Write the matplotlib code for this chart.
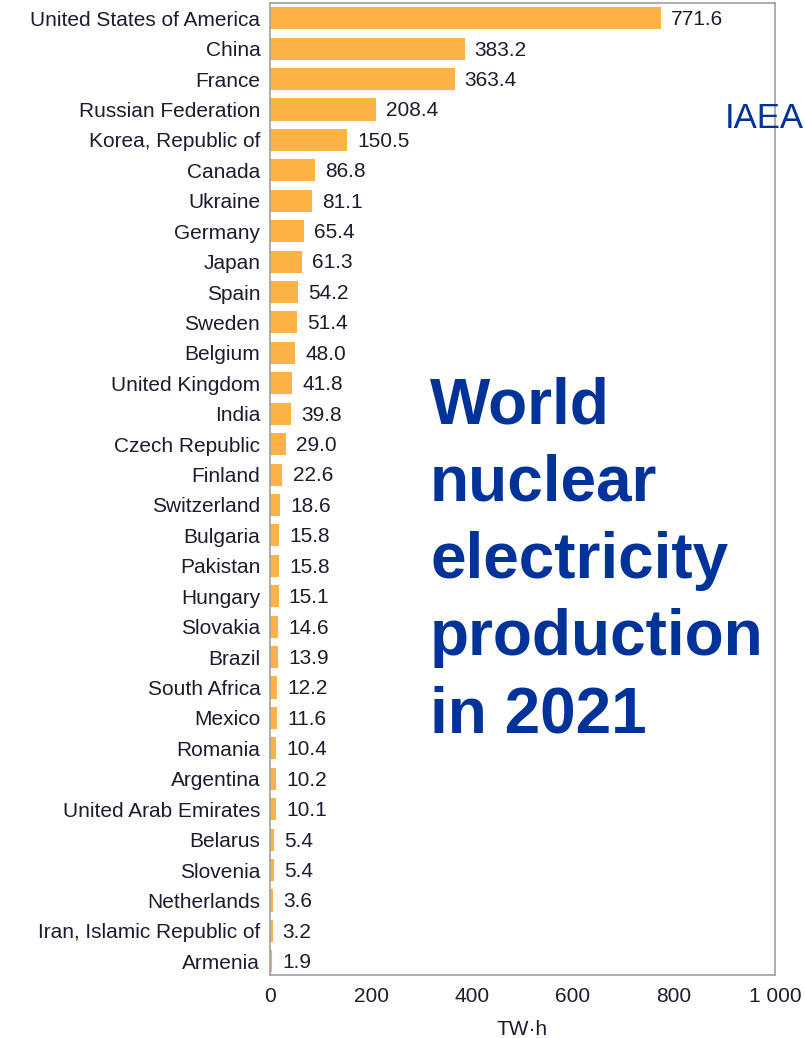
import matplotlib
matplotlib.use("Agg")
import matplotlib.pyplot as plt

countries = ["United States of America", "China", "France", "Russian Federation",
             "Korea, Republic of", "Canada", "Ukraine", "Germany", "Japan", "Spain",
             "Sweden", "Belgium", "United Kingdom", "India", "Czech Republic", "Finland",
             "Switzerland", "Bulgaria", "Pakistan", "Hungary", "Slovakia", "Brazil",
             "South Africa", "Mexico", "Romania", "Argentina", "United Arab Emirates",
             "Belarus", "Slovenia", "Netherlands", "Iran, Islamic Republic of", "Armenia"]
values = [771.6, 383.2, 363.4, 208.4, 150.5, 86.8, 81.1, 65.4, 61.3, 54.2,
          51.4, 48.0, 41.8, 39.8, 29.0, 22.6, 18.6, 15.8, 15.8, 15.1, 14.6, 13.9,
          12.2, 11.6, 10.4, 10.2, 10.1, 5.4, 5.4, 3.6, 3.2, 1.9]
xticks = [0, 200, 400, 600, 800, 1000]
xtick_labels = ["0", "200", "400", "600", "800", "1 000"]

plt.rcParams['font.family'] = ['Liberation Sans', 'DejaVu Sans']

fig = plt.figure(figsize=(8.05, 10.38), dpi=100)
ax = fig.add_axes([270/805, 1 - 975/1038, (775-270)/805, (975-3)/1038])

fs = 15
txt_color = '#1c1c30'
bar_color = '#FDB245'
ypos = list(range(len(countries)))
ax.barh(ypos, values, height=0.66, color=bar_color, edgecolor=bar_color, linewidth=1.5)
for y, v in zip(ypos, values):
    ax.annotate(f"{v:.1f}", xy=(v, y), xytext=(8, -1), textcoords='offset points',
                va='center', ha='left', fontsize=fs, color=txt_color)

ax.set_yticks(ypos)
ax.set_yticklabels(countries, fontsize=fs, color=txt_color)
ax.set_ylim(len(countries) - 0.55, -0.5)
ax.set_xlim(0, 1000)
ax.set_xticks(xticks)
ax.set_xticklabels(xtick_labels, fontsize=fs, color=txt_color)
ax.tick_params(length=0, pad=8.5)
ax.tick_params(axis='y', pad=7)
ax.set_xlabel("TW·h", fontsize=fs, color=txt_color, labelpad=10)
for s in ax.spines.values():
    s.set_color('#a0a0a0')
    s.set_linewidth(1.2)

fig.text(430/805, 1 - 376/1038, "World\nnuclear\nelectricity\nproduction\nin 2021",
         fontsize=46, fontweight='bold', color='#003399', ha='left', va='top',
         linespacing=1.37)
fig.text(725/805, 1 - 118/1038, "IAEA", fontsize=25, color='#003399',
         ha='left', va='center')

fig.savefig("out.png", dpi=100)
